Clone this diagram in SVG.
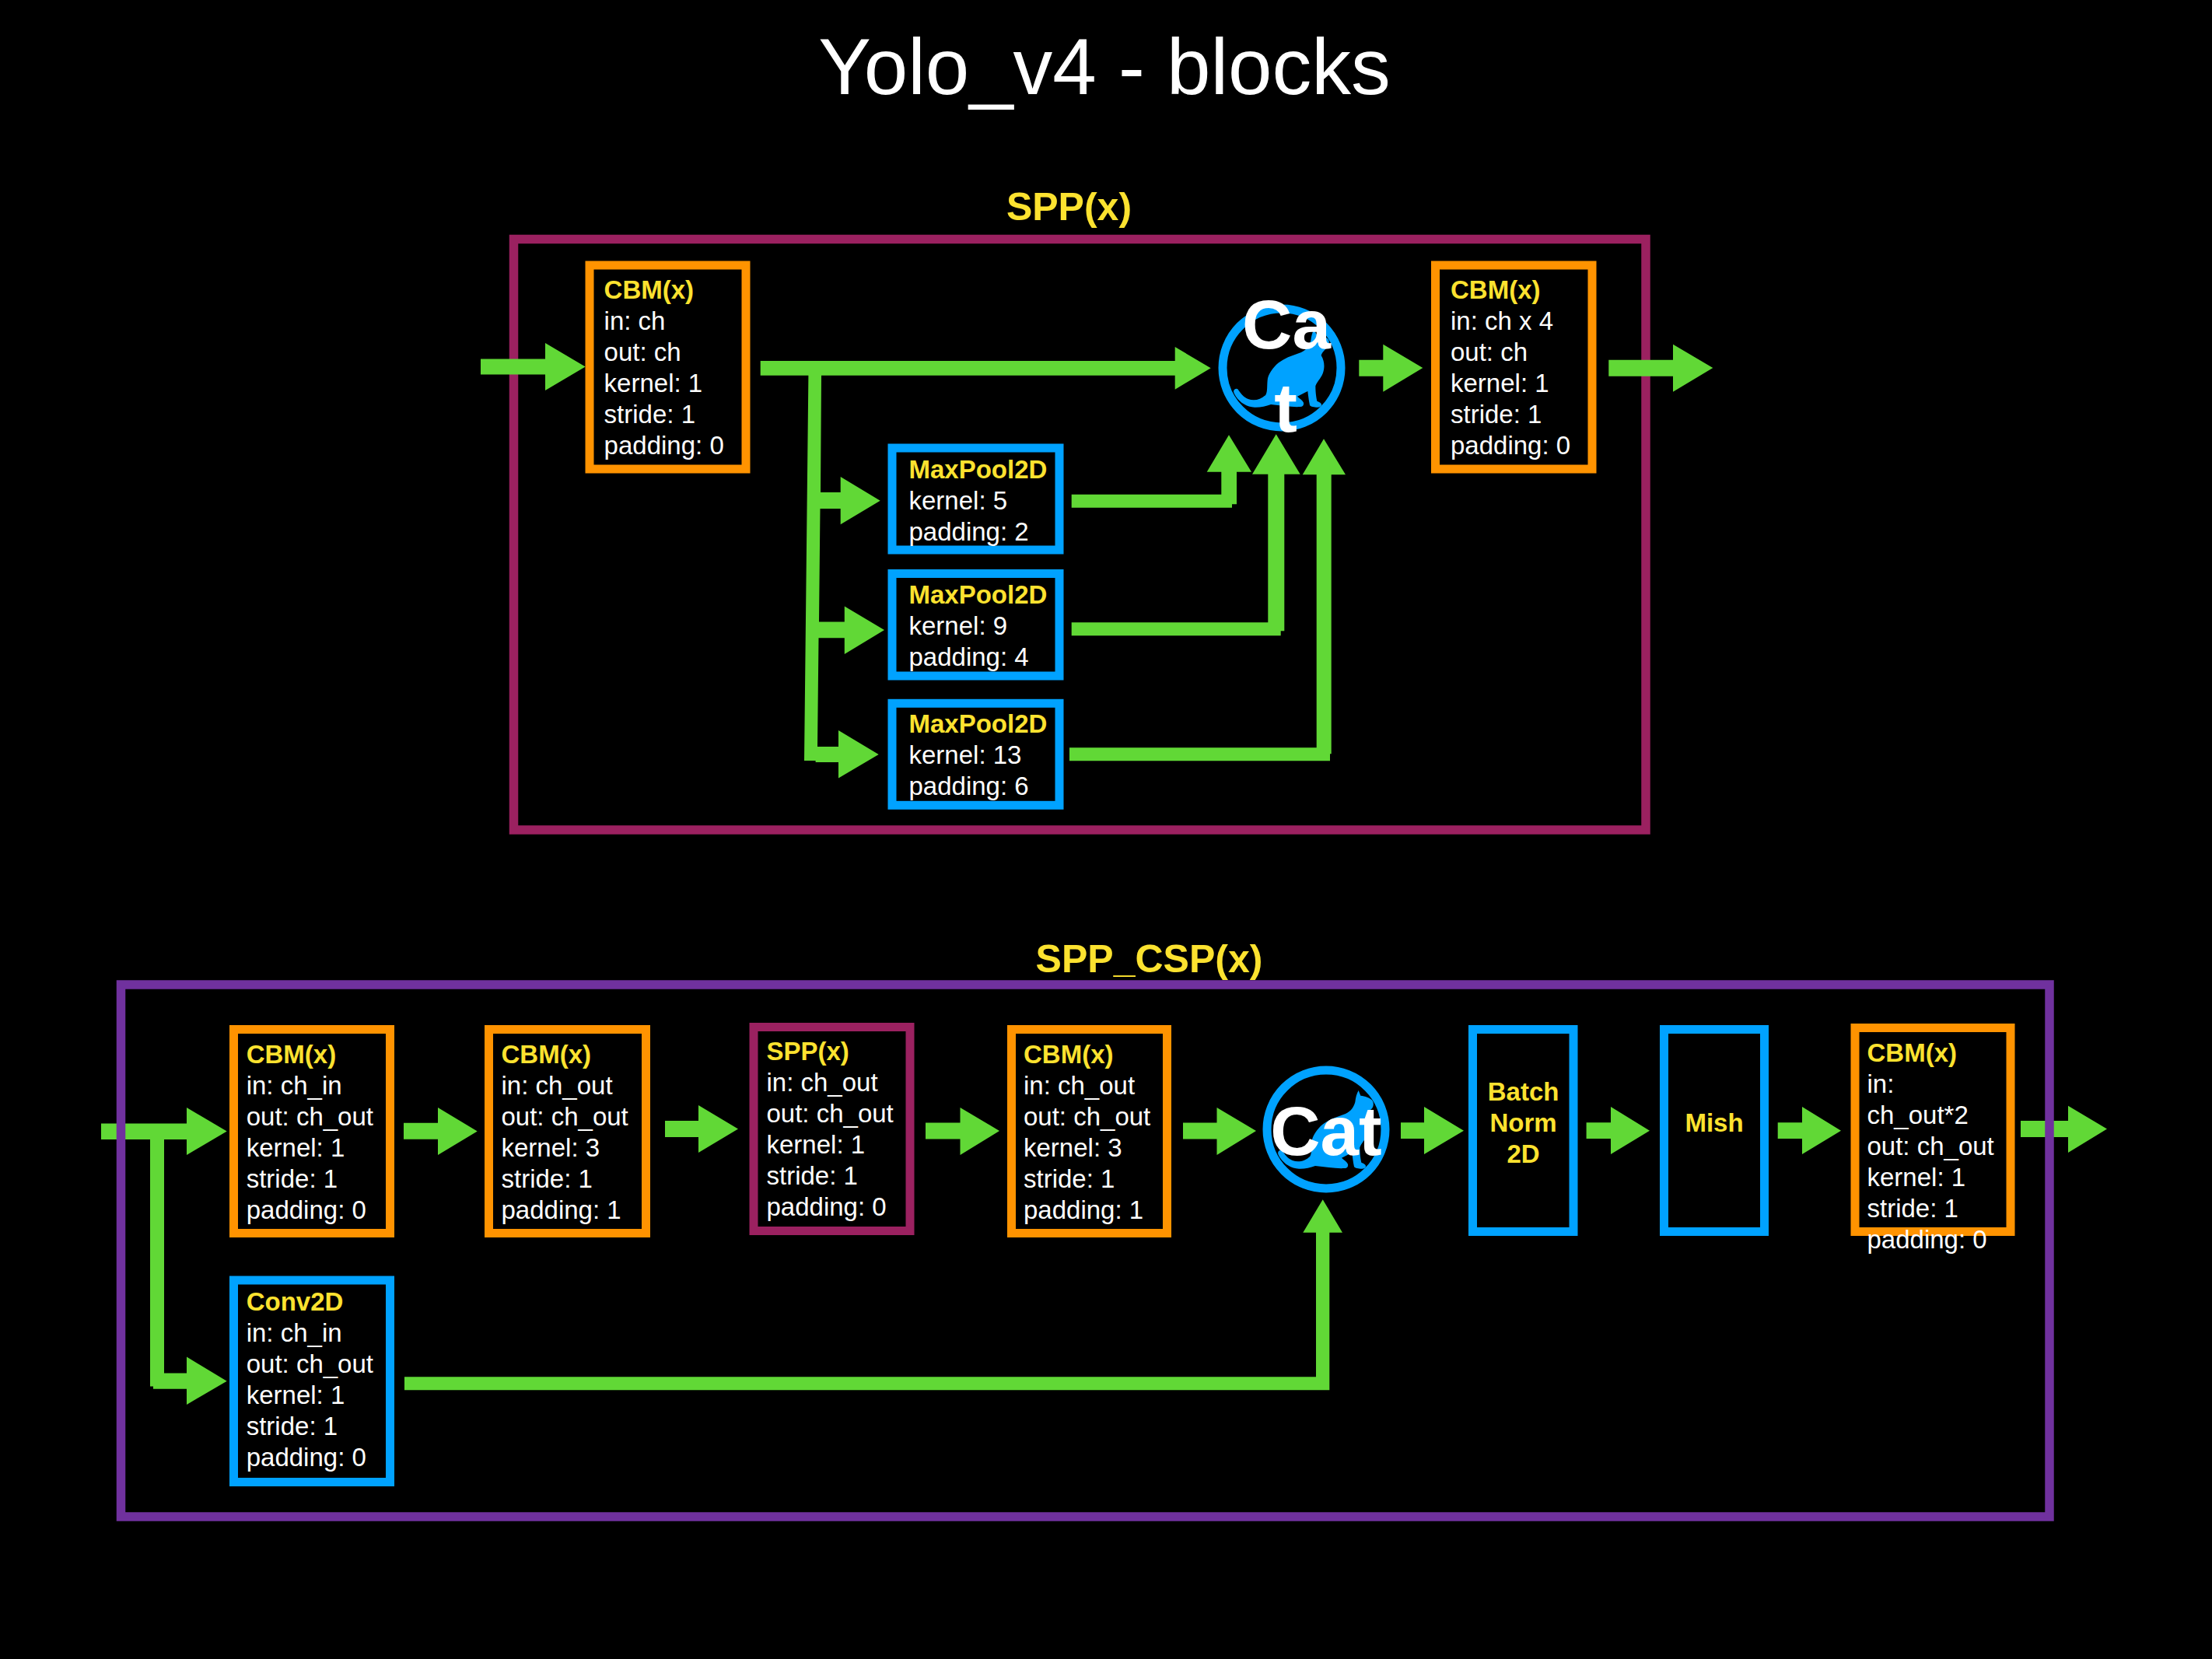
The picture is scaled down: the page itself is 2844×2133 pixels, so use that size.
<svg xmlns="http://www.w3.org/2000/svg" xmlns:xlink="http://www.w3.org/1999/xlink" width="2844" height="2133" viewBox="0 0 2844 2133">
<style>
text{font-family:"Liberation Sans",Arial,sans-serif}
.title{font-size:101.5px;fill:#fff;text-anchor:middle}
.head{font-size:50px;font-weight:700;fill:#fce22f;text-anchor:middle}
.t{font-size:33px;fill:#fff}
.h{font-weight:700;fill:#fce22f}
.c{text-anchor:middle;font-size:33px;font-weight:700;fill:#fce22f}
.cat{font-size:89px;font-weight:700;fill:#fff;text-anchor:middle}
.frame,.o,.bl,.m{fill:none}
.frame{stroke-width:11.5}
.o{stroke:#ff9300;stroke-width:11}
.bl{stroke:#00a2ff;stroke-width:11}
.m{stroke:#9b2160;stroke-width:11}
.ring{fill:none;stroke:#00a2ff;stroke-width:11}
.g{fill:#61d836}
</style>
<defs>
<path id="catshape" fill="#00a2ff" transform="scale(.3333)" d="M125-150L133-130C150-128 168-122 178-112C184-104 184-92 178-82C168-72 155-60 152-48C166-25 166 0 158 22C150 42 135 55 130 70C130 90 132 112 136 128C146 132 154 136 153 143C152 150 146 152 138 152C124 152 112 150 108 144C104 126 102 106 100 90C88 96 74 104 60 110C68 118 80 124 84 134C86 144 80 150 72 150C40 152 0 146-42 141C-62 148-84 153-105 152C-135 150-160 135-177 110C-182 102-188 94-185 87C-181 80-174 78-170 82C-160 96-150 112-130 120C-108 128-82 124-62 104C-54 92-58 64-54 40C-48 16-26-12-5-25C20-42 48-50 75-60C95-70 106-84 112-105C114-122 118-138 125-150Z"/>
</defs>
<rect width="2844" height="2133" fill="#000"/>
<text class="title" x="1420" y="121">Yolo_v4 - blocks</text>
<text class="head" x="1374.5" y="283">SPP(x)</text>
<text class="head" x="1477.5" y="1249.5">SPP_CSP(x)</text>

<g id="spp-frame"><rect class="frame" x="660.5" y="307.5" width="1455.5" height="759.5" fill="none" stroke="#9b2160"/></g>

<g id="csp-connectors-under">
<polygon class="g" points="130,1444.5 240,1444.5 240,1424 291.7,1454.6 240,1485 240,1465 211,1465 211,1765.6 240,1765.6 240,1744.6 291.7,1775.7 240,1806 240,1785.7 197,1785.7 197,1782.6 193,1782.6 193,1465 130,1465"/>
<path class="g" d="M2598 1441H2659V1421.7L2709 1451.5 2659 1482V1462H2598Z"/>
</g>
<g id="csp-frame"><rect class="frame" x="155.5" y="1266" width="2479.5" height="684" fill="none" stroke="#70319e"/></g>

<g id="connectors">
<path class="g" d="M618 461.5H701V441L752.6 471.5 701 502V481.5H618Z"/>
<path class="g" d="M977.7 464H1510.7V446L1556.7 473.3 1510.7 500.7V482.7H1056L1055 633H1080.7V613L1131.7 643.7 1080.7 674.3V654H1054.5L1053 799.4H1085.8V779.5L1137 810 1085.8 841V820.2H1052.5L1051 960H1078V939L1129.7 970 1078 1000.6V980H1048.6V978H1034L1039.4 482.7V482.7H977.7Z"/>
<path class="g" d="M1377.7 635.7H1570.3V606.7H1551.7L1580 559.3 1609 606.7H1590V648.3H1584V652.7H1377.7Z"/>
<path class="g" d="M1377.7 800.3H1630.3V609.7H1610L1640.7 558.3 1671.7 609.7H1651.3V811.3H1646.7V817.3H1377.7Z"/>
<path class="g" d="M1375 961.3H1692.7V610.3H1674.7L1702 564.3 1730 610.3H1711.7V969.3H1710V978.3H1375Z"/>
<path class="g" d="M1747.3 462.7H1778.3V442.7L1829.3 473 1778.3 503.7V483.7H1747.3Z"/>
<path class="g" d="M2068.3 462.7H2151V442.7L2202.3 473 2151 503.7V483.7H2068.3Z"/>
<path class="g" d="M519 1443.7H563V1424L613.7 1454.5 563 1485V1464.7H519Z"/>
<path class="g" d="M855 1441H898V1421L949 1451.5 898 1482V1462H855Z"/>
<path class="g" d="M1190 1443.5H1234.5V1424L1285 1454 1234.5 1485V1464.5H1190Z"/>
<path class="g" d="M1521 1443.5H1564.5V1424L1615 1454 1564.5 1485V1464.5H1521Z"/>
<path class="g" d="M1801 1443.3H1831V1423L1882 1453.7 1831 1484V1464H1801Z"/>
<path class="g" d="M2039.6 1443.3H2071V1423L2121 1453.7 2071 1484V1464H2039.6Z"/>
<path class="g" d="M2285.7 1443.3H2317V1423L2367 1453.7 2317 1484V1464H2285.7Z"/>
<path class="g" d="M520 1770.3H1692V1584.7H1675.3L1700.7 1542.3 1726 1584.7H1709.3V1787.3H520Z"/>
</g>

<g id="spp-cbm1"><rect class="o" x="758" y="341" width="201" height="262"/><text class="t" x="776.6" y="384"><tspan class="h">CBM(x)</tspan><tspan x="776.6" dy="40">in: ch</tspan><tspan x="776.6" dy="40">out: ch</tspan><tspan x="776.6" dy="40">kernel: 1</tspan><tspan x="776.6" dy="40">stride: 1</tspan><tspan x="776.6" dy="40">padding: 0</tspan></text></g>
<g id="spp-mp5"><rect class="bl" x="1147" y="576" width="215" height="131"/><text class="t" x="1168.5" y="614.7"><tspan class="h">MaxPool2D</tspan><tspan x="1168.5" dy="40">kernel: 5</tspan><tspan x="1168.5" dy="40">padding: 2</tspan></text></g>
<g id="spp-mp9"><rect class="bl" x="1147" y="737.5" width="215" height="131.5"/><text class="t" x="1168.5" y="775.6"><tspan class="h">MaxPool2D</tspan><tspan x="1168.5" dy="40">kernel: 9</tspan><tspan x="1168.5" dy="40">padding: 4</tspan></text></g>
<g id="spp-mp13"><rect class="bl" x="1147" y="904.3" width="215" height="131"/><text class="t" x="1168.5" y="942"><tspan class="h">MaxPool2D</tspan><tspan x="1168.5" dy="40">kernel: 13</tspan><tspan x="1168.5" dy="40">padding: 6</tspan></text></g>
<g id="spp-cat"><circle class="ring" cx="1648" cy="473" r="76"/><use xlink:href="#catshape" href="#catshape" transform="translate(1648 473)"/><text class="cat" x="1654" y="447.5">Ca</text><text class="cat" x="1653" y="555">t</text></g>
<g id="spp-cbm2"><rect class="o" x="1845.5" y="341" width="201.5" height="262"/><text class="t" x="1865" y="383.5"><tspan class="h">CBM(x)</tspan><tspan x="1865" dy="40">in: ch x 4</tspan><tspan x="1865" dy="40">out: ch</tspan><tspan x="1865" dy="40">kernel: 1</tspan><tspan x="1865" dy="40">stride: 1</tspan><tspan x="1865" dy="40">padding: 0</tspan></text></g>

<g id="csp-cbm1"><rect class="o" x="300.5" y="1323.5" width="201" height="262"/><text class="t" x="316.7" y="1367"><tspan class="h">CBM(x)</tspan><tspan x="316.7" dy="40">in: ch_in</tspan><tspan x="316.7" dy="40">out: ch_out</tspan><tspan x="316.7" dy="40">kernel: 1</tspan><tspan x="316.7" dy="40">stride: 1</tspan><tspan x="316.7" dy="40">padding: 0</tspan></text></g>
<g id="csp-conv"><rect class="bl" x="300.5" y="1646" width="201" height="259.5"/><text class="t" x="316.7" y="1685"><tspan class="h">Conv2D</tspan><tspan x="316.7" dy="40">in: ch_in</tspan><tspan x="316.7" dy="40">out: ch_out</tspan><tspan x="316.7" dy="40">kernel: 1</tspan><tspan x="316.7" dy="40">stride: 1</tspan><tspan x="316.7" dy="40">padding: 0</tspan></text></g>
<g id="csp-cbm2"><rect class="o" x="628.5" y="1323.5" width="202" height="262"/><text class="t" x="644.5" y="1367"><tspan class="h">CBM(x)</tspan><tspan x="644.5" dy="40">in: ch_out</tspan><tspan x="644.5" dy="40">out: ch_out</tspan><tspan x="644.5" dy="40">kernel: 3</tspan><tspan x="644.5" dy="40">stride: 1</tspan><tspan x="644.5" dy="40">padding: 1</tspan></text></g>
<g id="csp-spp"><rect class="m" x="969" y="1320.5" width="201" height="262"/><text class="t" x="985.5" y="1363"><tspan class="h">SPP(x)</tspan><tspan x="985.5" dy="40">in: ch_out</tspan><tspan x="985.5" dy="40">out: ch_out</tspan><tspan x="985.5" dy="40">kernel: 1</tspan><tspan x="985.5" dy="40">stride: 1</tspan><tspan x="985.5" dy="40">padding: 0</tspan></text></g>
<g id="csp-cbm3"><rect class="o" x="1300.5" y="1323.5" width="200" height="262"/><text class="t" x="1316" y="1367"><tspan class="h">CBM(x)</tspan><tspan x="1316" dy="40">in: ch_out</tspan><tspan x="1316" dy="40">out: ch_out</tspan><tspan x="1316" dy="40">kernel: 3</tspan><tspan x="1316" dy="40">stride: 1</tspan><tspan x="1316" dy="40">padding: 1</tspan></text></g>
<g id="csp-cat"><circle class="ring" cx="1705" cy="1452" r="76"/><use xlink:href="#catshape" href="#catshape" transform="translate(1705 1452)"/><text class="cat" x="1705" y="1484.5">Cat</text></g>
<g id="csp-bn"><rect class="bl" x="1893.5" y="1323.5" width="129.5" height="260"/><text class="c" x="1958.6" y="1415">Batch<tspan x="1958.6" dy="40">Norm</tspan><tspan x="1958.6" dy="40">2D</tspan></text></g>
<g id="csp-mish"><rect class="bl" x="2139.5" y="1323.5" width="129" height="260"/><text class="c" x="2204" y="1455">Mish</text></g>
<g id="csp-cbm4"><rect class="o" x="2385" y="1321.5" width="200" height="262"/><text class="t" x="2400.5" y="1365"><tspan class="h">CBM(x)</tspan><tspan x="2400.5" dy="40">in:</tspan><tspan x="2400.5" dy="40">ch_out*2</tspan><tspan x="2400.5" dy="40">out: ch_out</tspan><tspan x="2400.5" dy="40">kernel: 1</tspan><tspan x="2400.5" dy="40">stride: 1</tspan><tspan x="2400.5" dy="40">padding: 0</tspan></text></g>
</svg>
